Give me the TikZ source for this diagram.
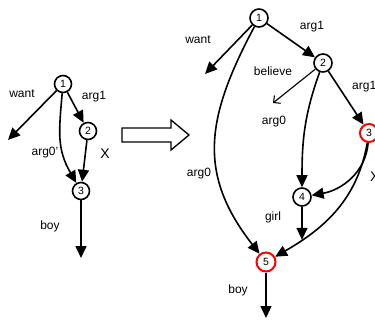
\documentclass[tikz,border=0pt]{standalone}
\usepackage{fontspec}
\setmainfont{Liberation Sans}
\usetikzlibrary{arrows.meta,intersections}
\begin{document}
\begin{tikzpicture}[x=1pt,y=1pt,
  state/.style={circle,draw,line width=1.6pt,fill=white,inner sep=0pt,
    minimum size=17pt,font=\fontsize{10.5}{10.5}\selectfont},
  bigstate/.style={state,minimum size=18pt},
  hot/.style={bigstate,draw=red,line width=2pt},
  lbl/.style={font=\fontsize{12}{12}\selectfont,inner sep=0pt},
  edge/.style={line width=1.6pt,-{Triangle[length=12pt,width=11pt]}},
  thinedge/.style={line width=1.1pt,-{Straight Barb[length=5pt,width=10pt]}}]
\useasboundingbox (0,0) rectangle (375,322);

% ---- small graph (left) ----
\node[state] (L1) at (63,238) {1};
\node[state] (L2) at (88,191) {2};
\node[state] (L3) at (81,131) {3};
\coordinate (lw) at (8,182);
\coordinate (lb) at (81,64);

\draw[edge] (L1) -- (lw);
\draw[edge] (L1) -- (L2);
\draw[edge] (L2) -- (L3);
\draw[edge] (L1) to[out=-95,in=120,looseness=1.1] (L3);
\draw[edge] (L3) -- (lb);

\node[lbl] at (22,228) {want};
\node[lbl] at (94,225) {arg1};
\node[lbl] at (45,169) {arg0'};
\node[lbl,font=\fontsize{14}{14}\selectfont] at (105,168) {X};
\node[lbl] at (50,96) {boy};

% ---- transformation arrow ----
\draw[line width=1.3pt,line join=miter]
  (122,194) -- (171,194) -- (171,202) -- (189,187) -- (171,172)
  -- (171,180) -- (122,180) -- cycle;

% ---- large graph (right) ----
\node[bigstate] (R1) at (259,304) {1};
\node[bigstate] (R2) at (323,259) {2};
\node[hot]      (R3) at (369,189) {3};
\node[bigstate] (R4) at (302,125) {4};
\node[hot,minimum size=19pt] (R5) at (266,60) {5};
\coordinate (rw) at (205,248);
\coordinate (rb) at (273,219);
\coordinate (rboy) at (266,4);

\draw[edge] (R1) -- (rw);
\draw[edge] (R1) -- (R2);
\draw[thinedge] (R2) -- (rb);
\draw[edge] (R2) -- (R3);
\draw[edge] (R1) to[out=-118,in=128,looseness=1.15] (R5);
\draw[edge] (R2) to[out=-110,in=90] (R4);
\draw[edge] (R3) to[out=-95,in=10] (R4);
\draw[edge,name path=c35] (R3) to[out=-100,in=30] (R5);
\path[name path=vert] (R4) -- ++(0,-110);
\path[name intersections={of=vert and c35,by=m}];
\draw[edge] (R4) -- (m);
\draw[edge] (R5) -- (rboy);

\node[lbl] at (198,282) {want};
\node[lbl] at (312,295) {arg1};
\node[lbl] at (273,251) {believe};
\node[lbl] at (274,200) {arg0};
\node[lbl,anchor=west] at (352,235) {arg1};
\node[lbl] at (199,148) {arg0};
\node[lbl] at (273,105) {girl};
\node[lbl] at (238,32) {boy};
\node[lbl,anchor=west,font=\fontsize{14}{14}\selectfont] at (370,145) {X};
\end{tikzpicture}
\end{document}
